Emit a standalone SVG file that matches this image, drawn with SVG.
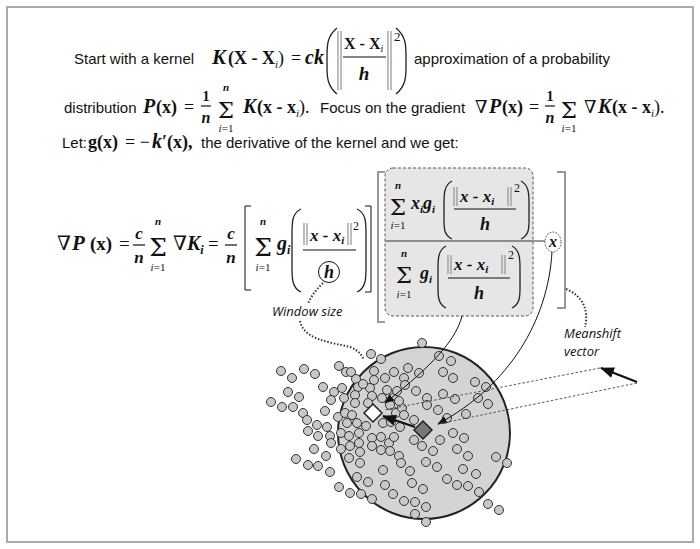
<svg xmlns="http://www.w3.org/2000/svg" width="700" height="549" viewBox="0 0 700 549">
<defs>
<style>
.t{font-family:"Liberation Sans",Arial,sans-serif;font-size:15px;fill:#111}
.lab{font-family:"Open Sans","Liberation Sans",sans-serif;font-size:13px;font-style:italic;fill:#111}
.m{font-family:"Liberation Serif","DejaVu Serif",serif;fill:#111}
.sg{font-family:"DejaVu Serif","Liberation Serif",serif;fill:#111;text-anchor:middle}
.b{font-weight:bold}
.bi{font-weight:bold;font-style:italic}
.it{font-style:italic}
.ln{stroke:#111;stroke-width:1;fill:none}
.bar{stroke:#111;stroke-width:1.2}
.nb{stroke:#999;stroke-width:1.3}
.par{stroke:#222;stroke-width:1.3;fill:none}
.brk{stroke:#999;stroke-width:2;fill:none}
.dot{fill:#c8c8c8;stroke:#333;stroke-width:1}
.dotted{stroke:#333;stroke-width:2;stroke-dasharray:1.5 1.8;fill:none}
.dash{stroke:#555;stroke-width:1;stroke-dasharray:2.5 2;fill:none}
</style>
<marker id="ah" markerUnits="userSpaceOnUse" markerWidth="10" markerHeight="8" refX="9" refY="4" orient="auto"><path d="M0,0 L10,4 L0,8 z" fill="#111"/></marker>
<marker id="ahL" markerUnits="userSpaceOnUse" markerWidth="14" markerHeight="11" refX="13" refY="5.5" orient="auto"><path d="M0,0 L14,5.5 L0,11 z" fill="#111"/></marker>
</defs>
<rect x="0" y="0" width="700" height="549" fill="#fff"/>
<rect x="7" y="7" width="686" height="535" fill="none" stroke="#aaa" stroke-width="2"/>

<g id="line1">
<text class="t" x="74" y="64">Start with a kernel</text>
<text class="m bi" x="212" y="64" font-size="21">K</text>
<text class="m b" x="228" y="64" font-size="18">(X - X<tspan class="it" font-weight="normal" font-size="11" dy="4">i</tspan><tspan dy="-4" font-weight="normal">)</tspan></text>
<text class="m" x="291" y="64" font-size="18">=</text>
<text class="m bi" x="305" y="64" font-size="20">ck</text>
<path class="par" d="M337,28 C327,36 327,46 327,56 L327,66 C327,76 327,86 337,94"/>
<line class="nb" x1="338" y1="31" x2="338" y2="90"/><line class="nb" x1="341" y1="31" x2="341" y2="90"/>
<text class="m b" x="344" y="49" font-size="16">X - X<tspan class="it" font-weight="normal" font-size="10" dy="3">i</tspan></text>
<line class="bar" x1="343" y1="57" x2="386" y2="57"/>
<text class="m bi" x="364" y="80" font-size="19" text-anchor="middle">h</text>
<line class="nb" x1="388" y1="31" x2="388" y2="90"/><line class="nb" x1="391" y1="31" x2="391" y2="90"/>
<text class="m" x="394" y="41" font-size="13">2</text>
<path class="par" d="M396,28 C406,36 406,46 406,56 L406,66 C406,76 406,86 396,94"/>
<text class="t" x="414" y="64">approximation of a probability</text>
</g>

<g id="line2">
<text class="t" x="64" y="113">distribution</text>
<text class="m bi" x="143" y="113" font-size="20">P</text>
<text class="m b" x="156" y="113" font-size="18">(x)</text>
<text class="m" x="184" y="113" font-size="18">=</text>
<text class="m b" x="206" y="101" font-size="14" text-anchor="middle">1</text>
<line class="bar" x1="201" y1="106" x2="211" y2="106"/>
<text class="m bi" x="206" y="123" font-size="16" text-anchor="middle">n</text>
<text class="sg" x="226" y="118" font-size="23">Σ</text>
<text class="m bi" x="226" y="91" font-size="11" text-anchor="middle">n</text>
<text class="m" x="226" y="132" font-size="11" text-anchor="middle"><tspan class="it">i</tspan>=1</text>
<text class="m bi" x="243" y="113" font-size="20">K</text>
<text class="m b" x="257" y="113" font-size="18">(x - x<tspan class="it" font-weight="normal" font-size="11" dy="4">i</tspan><tspan dy="-4" font-weight="normal">).</tspan></text>
<text class="t" x="320" y="113">Focus on the gradient</text>
<text class="m" x="475" y="113" font-size="18">∇</text>
<text class="m bi" x="489" y="113" font-size="20">P</text>
<text class="m b" x="502" y="113" font-size="18">(x)</text>
<text class="m" x="529" y="113" font-size="18">=</text>
<text class="m b" x="550" y="101" font-size="14" text-anchor="middle">1</text>
<line class="bar" x1="545" y1="106" x2="555" y2="106"/>
<text class="m bi" x="550" y="123" font-size="16" text-anchor="middle">n</text>
<text class="sg" x="569" y="118" font-size="23">Σ</text>
<text class="m" x="569" y="132" font-size="11" text-anchor="middle"><tspan class="it">i</tspan>=1</text>
<text class="m" x="584" y="113" font-size="18">∇</text>
<text class="m bi" x="598" y="113" font-size="20">K</text>
<text class="m b" x="612" y="113" font-size="18">(x - x<tspan class="it" font-weight="normal" font-size="11" dy="4">i</tspan><tspan dy="-4" font-weight="normal">).</tspan></text>
</g>

<g id="line3">
<text class="t" x="62" y="148">Let:</text>
<text class="m b" x="88" y="148" font-size="18">g(x)</text>
<text class="m" x="125" y="148" font-size="18">= −</text>
<text class="m bi" x="152" y="148" font-size="20">k</text>
<text class="m b" x="162" y="148" font-size="18">′(x),</text>
<text class="t" x="201" y="148">the derivative of the kernel and we get:</text>
</g>

<g id="gradient-formula">
<text class="m" x="57" y="250" font-size="20">∇</text>
<text class="m bi" x="72" y="250" font-size="21">P</text>
<text class="m b" x="90" y="250" font-size="19">(x)</text>
<text class="m" x="119" y="250" font-size="19">=</text>
<text class="m bi" x="139" y="239" font-size="17" text-anchor="middle">c</text>
<line class="bar" x1="133" y1="245" x2="145" y2="245"/>
<text class="m bi" x="139" y="263" font-size="17" text-anchor="middle">n</text>
<text class="sg" x="158" y="256" font-size="25">Σ</text>
<text class="m bi" x="158" y="225" font-size="11" text-anchor="middle">n</text>
<text class="m" x="158" y="271" font-size="11" text-anchor="middle"><tspan class="it">i</tspan>=1</text>
<text class="m" x="173" y="250" font-size="20">∇</text>
<text class="m bi" x="187" y="250" font-size="20">K<tspan font-size="12" dy="4">i</tspan></text>
<text class="m" x="208" y="250" font-size="19">=</text>
<text class="m bi" x="231" y="239" font-size="17" text-anchor="middle">c</text>
<line class="bar" x1="225" y1="245" x2="237" y2="245"/>
<text class="m bi" x="231" y="263" font-size="17" text-anchor="middle">n</text>
<path class="ln" stroke-width="1.3" d="M251,206 L245,206 L245,290 L251,290"/>
<text class="sg" x="263" y="256" font-size="25">Σ</text>
<text class="m bi" x="263" y="225" font-size="11" text-anchor="middle">n</text>
<text class="m" x="263" y="271" font-size="11" text-anchor="middle"><tspan class="it">i</tspan>=1</text>
<text class="m bi" x="277" y="250" font-size="20">g<tspan font-size="12" dy="4">i</tspan></text>
<path class="par" d="M301,209 C292,213 292,223 292,233 L292,268 C292,278 292,288 301,292"/>
<line class="nb" x1="304" y1="223" x2="304" y2="245"/><line class="nb" x1="307" y1="223" x2="307" y2="245"/>
<text class="m bi" x="310" y="241" font-size="17">x - x<tspan font-size="11" dy="3">i</tspan></text>
<line class="nb" x1="348" y1="223" x2="348" y2="245"/><line class="nb" x1="351" y1="223" x2="351" y2="245"/>
<text class="m" x="353" y="230" font-size="12">2</text>
<line class="bar" x1="303" y1="250" x2="356" y2="250"/>
<circle cx="329" cy="272" r="10.5" fill="none" stroke="#111" stroke-width="1"/>
<text class="m bi" x="329" y="278" font-size="18" text-anchor="middle">h</text>
<path class="par" d="M357,209 C366,213 366,223 366,233 L366,268 C366,278 366,288 357,292"/>
<path class="ln" stroke-width="1.3" d="M365,206 L371,206 L371,292 L365,292"/>
</g>

<g id="mean-box">
<path class="brk" d="M385,172 L378,172 L378,322 L385,322"/>
<rect x="385" y="168" width="148" height="148" rx="8" fill="#e6e6e6" stroke="#555" stroke-width="1" stroke-dasharray="3 2"/>
<line x1="385" y1="241" x2="533" y2="241" stroke="#8c8c8c" stroke-width="2"/>
<path class="brk" d="M557,172 L565,172 L565,308 L557,308"/>
<text class="sg" x="398" y="215" font-size="23">Σ</text>
<text class="m bi" x="398" y="189" font-size="11" text-anchor="middle">n</text>
<text class="m" x="398" y="229" font-size="11" text-anchor="middle"><tspan class="it">i</tspan>=1</text>
<text class="m bi" x="411" y="209" font-size="18">x<tspan font-size="11" dy="4">i</tspan><tspan dy="-4">g</tspan><tspan font-size="11" dy="4">i</tspan></text>
<path class="par" d="M452,181 C444,185 444,195 444,203 L444,219 C444,229 444,235 452,239"/>
<line class="nb" x1="454" y1="187" x2="454" y2="206"/><line class="nb" x1="457" y1="187" x2="457" y2="206"/>
<text class="m bi" x="460" y="202" font-size="17">x - x<tspan font-size="11" dy="3">i</tspan></text>
<line class="nb" x1="508" y1="187" x2="508" y2="206"/><line class="nb" x1="511" y1="187" x2="511" y2="206"/>
<text class="m" x="514" y="192" font-size="12">2</text>
<line class="bar" x1="454" y1="209" x2="516" y2="209"/>
<text class="m bi" x="485" y="230" font-size="18" text-anchor="middle">h</text>
<path class="par" d="M521,181 C529,185 529,195 529,203 L529,219 C529,229 529,235 521,239"/>
<text class="sg" x="404" y="283" font-size="23">Σ</text>
<text class="m bi" x="404" y="257" font-size="11" text-anchor="middle">n</text>
<text class="m" x="404" y="298" font-size="11" text-anchor="middle"><tspan class="it">i</tspan>=1</text>
<text class="m bi" x="420" y="279" font-size="18">g<tspan font-size="11" dy="4">i</tspan></text>
<path class="par" d="M446,246 C438,250 438,260 438,268 L438,288 C438,296 438,304 446,308"/>
<line class="nb" x1="448" y1="255" x2="448" y2="274"/><line class="nb" x1="451" y1="255" x2="451" y2="274"/>
<text class="m bi" x="454" y="270" font-size="17">x - x<tspan font-size="11" dy="3">i</tspan></text>
<line class="nb" x1="502" y1="255" x2="502" y2="274"/><line class="nb" x1="505" y1="255" x2="505" y2="274"/>
<text class="m" x="508" y="259" font-size="12">2</text>
<line class="bar" x1="448" y1="278" x2="510" y2="278"/>
<text class="m bi" x="479" y="299" font-size="18" text-anchor="middle">h</text>
<path class="par" d="M512,246 C520,250 520,260 520,268 L520,288 C520,296 520,304 512,308"/>
</g>

<g id="x-node">
<ellipse cx="553" cy="242" rx="8" ry="10" fill="#fff" stroke="#333" stroke-width="1" stroke-dasharray="1.5 1.5"/>
<text class="m bi" x="553" y="247" font-size="16" text-anchor="middle">x</text>
</g>

<g id="window-size-label"><text class="lab" x="272" y="316">Window size</text></g>
<g id="meanshift-label"><text class="lab" x="564" y="338">Meanshift</text><text class="lab" x="564" y="356">vector</text></g>

<g id="window">
<circle cx="424" cy="433" r="86" fill="#d4d4d4" stroke="#222" stroke-width="2"/>
</g>

<g id="points">
<circle class="dot" cx="281" cy="371" r="4.5"/><circle class="dot" cx="292" cy="378" r="4.5"/><circle class="dot" cx="304" cy="369" r="4.5"/><circle class="dot" cx="315" cy="374" r="4.5"/><circle class="dot" cx="339" cy="366" r="4.5"/><circle class="dot" cx="346" cy="372" r="4.5"/><circle class="dot" cx="351" cy="372" r="4.5"/><circle class="dot" cx="371" cy="354" r="4.5"/><circle class="dot" cx="381" cy="359" r="4.5"/><circle class="dot" cx="323" cy="387" r="4.5"/><circle class="dot" cx="334" cy="392" r="4.5"/><circle class="dot" cx="342" cy="388" r="4.5"/><circle class="dot" cx="288" cy="392" r="4.5"/><circle class="dot" cx="299" cy="397" r="4.5"/><circle class="dot" cx="271" cy="402" r="4.5"/><circle class="dot" cx="282" cy="407" r="4.5"/><circle class="dot" cx="293" cy="407" r="4.5"/><circle class="dot" cx="303" cy="413" r="4.5"/><circle class="dot" cx="307" cy="420" r="4.5"/><circle class="dot" cx="325" cy="411" r="4.5"/><circle class="dot" cx="338" cy="417" r="4.5"/><circle class="dot" cx="345" cy="413" r="4.5"/><circle class="dot" cx="317" cy="425" r="4.5"/><circle class="dot" cx="327" cy="427" r="4.5"/><circle class="dot" cx="308" cy="431" r="4.5"/><circle class="dot" cx="318" cy="436" r="4.5"/><circle class="dot" cx="330" cy="436" r="4.5"/><circle class="dot" cx="331" cy="443" r="4.5"/><circle class="dot" cx="314" cy="449" r="4.5"/><circle class="dot" cx="326" cy="456" r="4.5"/><circle class="dot" cx="296" cy="459" r="4.5"/><circle class="dot" cx="308" cy="465" r="4.5"/><circle class="dot" cx="318" cy="466" r="4.5"/><circle class="dot" cx="330" cy="472" r="4.5"/><circle class="dot" cx="339" cy="487" r="4.5"/><circle class="dot" cx="350" cy="493" r="4.5"/><circle class="dot" cx="361" cy="494" r="4.5"/><circle class="dot" cx="372" cy="499" r="4.5"/><circle class="dot" cx="357" cy="477" r="4.5"/><circle class="dot" cx="368" cy="482" r="4.5"/><circle class="dot" cx="360" cy="463" r="4.5"/>
<circle class="dot" cx="356" cy="379" r="4.5"/><circle class="dot" cx="374" cy="371" r="4.5"/><circle class="dot" cx="374" cy="380" r="4.5"/><circle class="dot" cx="385" cy="378" r="4.5"/><circle class="dot" cx="394" cy="372" r="4.5"/><circle class="dot" cx="358" cy="387" r="4.5"/><circle class="dot" cx="355" cy="395" r="4.5"/><circle class="dot" cx="355" cy="403" r="4.5"/><circle class="dot" cx="370" cy="388" r="4.5"/><circle class="dot" cx="372" cy="396" r="4.5"/><circle class="dot" cx="368" cy="403" r="4.5"/><circle class="dot" cx="387" cy="390" r="4.5"/><circle class="dot" cx="382" cy="398" r="4.5"/><circle class="dot" cx="393" cy="398" r="4.5"/><circle class="dot" cx="390" cy="405" r="4.5"/><circle class="dot" cx="347" cy="423" r="4.5"/><circle class="dot" cx="357" cy="423" r="4.5"/><circle class="dot" cx="366" cy="426" r="4.5"/><circle class="dot" cx="383" cy="423" r="4.5"/><circle class="dot" cx="396" cy="413" r="4.5"/><circle class="dot" cx="341" cy="433" r="4.5"/><circle class="dot" cx="349" cy="436" r="4.5"/><circle class="dot" cx="359" cy="433" r="4.5"/><circle class="dot" cx="359" cy="443" r="4.5"/><circle class="dot" cx="350" cy="446" r="4.5"/><circle class="dot" cx="341" cy="449" r="4.5"/><circle class="dot" cx="349" cy="458" r="4.5"/><circle class="dot" cx="360" cy="452" r="4.5"/><circle class="dot" cx="372" cy="438" r="4.5"/><circle class="dot" cx="372" cy="446" r="4.5"/><circle class="dot" cx="381" cy="437" r="4.5"/><circle class="dot" cx="389" cy="443" r="4.5"/><circle class="dot" cx="381" cy="450" r="4.5"/><circle class="dot" cx="390" cy="451" r="4.5"/><circle class="dot" cx="394" cy="437" r="4.5"/><circle class="dot" cx="399" cy="456" r="4.5"/><circle class="dot" cx="393" cy="494" r="4.5"/>
<circle class="dot" cx="404" cy="378" r="4.5"/><circle class="dot" cx="405" cy="385" r="4.5"/><circle class="dot" cx="408" cy="368" r="4.5"/><circle class="dot" cx="419" cy="373" r="4.5"/><circle class="dot" cx="422" cy="343" r="4.5"/><circle class="dot" cx="439" cy="356" r="4.5"/><circle class="dot" cx="451" cy="361" r="4.5"/><circle class="dot" cx="443" cy="372" r="4.5"/><circle class="dot" cx="453" cy="378" r="4.5"/><circle class="dot" cx="475" cy="382" r="4.5"/><circle class="dot" cx="486" cy="387" r="4.5"/><circle class="dot" cx="416" cy="391" r="4.5"/><circle class="dot" cx="443" cy="394" r="4.5"/><circle class="dot" cx="455" cy="399" r="4.5"/><circle class="dot" cx="427" cy="398" r="4.5"/><circle class="dot" cx="427" cy="405" r="4.5"/><circle class="dot" cx="478" cy="398" r="4.5"/><circle class="dot" cx="488" cy="404" r="4.5"/><circle class="dot" cx="438" cy="410" r="4.5"/><circle class="dot" cx="402" cy="408" r="4.5"/><circle class="dot" cx="404" cy="415" r="4.5"/><circle class="dot" cx="414" cy="420" r="4.5"/><circle class="dot" cx="414" cy="440" r="4.5"/><circle class="dot" cx="453" cy="433" r="4.5"/><circle class="dot" cx="464" cy="438" r="4.5"/><circle class="dot" cx="422" cy="446" r="4.5"/><circle class="dot" cx="433" cy="451" r="4.5"/><circle class="dot" cx="401" cy="463" r="4.5"/><circle class="dot" cx="457" cy="449" r="4.5"/><circle class="dot" cx="468" cy="456" r="4.5"/><circle class="dot" cx="496" cy="457" r="4.5"/><circle class="dot" cx="507" cy="463" r="4.5"/><circle class="dot" cx="410" cy="471" r="4.5"/><circle class="dot" cx="426" cy="462" r="4.5"/><circle class="dot" cx="437" cy="467" r="4.5"/><circle class="dot" cx="463" cy="469" r="4.5"/><circle class="dot" cx="476" cy="474" r="4.5"/><circle class="dot" cx="447" cy="479" r="4.5"/><circle class="dot" cx="457" cy="485" r="4.5"/><circle class="dot" cx="468" cy="486" r="4.5"/><circle class="dot" cx="412" cy="483" r="4.5"/><circle class="dot" cx="423" cy="489" r="4.5"/><circle class="dot" cx="479" cy="492" r="4.5"/><circle class="dot" cx="404" cy="501" r="4.5"/><circle class="dot" cx="415" cy="502" r="4.5"/><circle class="dot" cx="426" cy="507" r="4.5"/><circle class="dot" cx="488" cy="504" r="4.5"/><circle class="dot" cx="499" cy="510" r="4.5"/><circle class="dot" cx="415" cy="514" r="4.5"/><circle class="dot" cx="426" cy="522" r="4.5"/>
<circle class="dot" cx="344" cy="398" r="4.5"/><circle class="dot" cx="363" cy="384" r="4.5"/><circle class="dot" cx="397" cy="391" r="4.5"/><circle class="dot" cx="352" cy="415" r="4.5"/><circle class="dot" cx="391" cy="422" r="4.5"/><circle class="dot" cx="400" cy="427" r="4.5"/><circle class="dot" cx="399" cy="401" r="4.5"/><circle class="dot" cx="331" cy="400" r="4.5"/><circle class="dot" cx="447" cy="418" r="4.5"/><circle class="dot" cx="466" cy="414" r="4.5"/><circle class="dot" cx="440" cy="440" r="4.5"/><circle class="dot" cx="383" cy="470" r="4.5"/><circle class="dot" cx="385" cy="485" r="4.5"/>
</g>

<g id="white-diamond"><path d="M373,404 L382,413 L373,422 L364,413 Z" fill="#fff" stroke="#222" stroke-width="1.5"/></g>
<g id="gray-diamond"><path d="M423,421 L432,430 L423,439 L414,430 Z" fill="#777" stroke="#222" stroke-width="1.5"/></g>

<g id="connectors">
<path class="ln" d="M462,316 C455,345 420,375 385,403" marker-end="url(#ah)"/>
<path class="ln" d="M552,252 C548,320 510,385 438,424" marker-end="url(#ah)"/>
<line class="dash" x1="600" y1="368" x2="384" y2="410"/>
<line class="dash" x1="637" y1="383" x2="438" y2="424"/>
<line x1="415" y1="427" x2="383" y2="416" stroke="#111" stroke-width="2.2" marker-end="url(#ahL)"/>
<line x1="637" y1="382" x2="601" y2="368" stroke="#111" stroke-width="2.2" marker-end="url(#ahL)"/>
<line x1="533" y1="241" x2="545" y2="241" stroke="#333" stroke-width="1"/>
<path class="dotted" d="M323,283 C315,291 310,298 308,304"/>
<path class="dotted" d="M300,321 C304,340 330,342 350,347 C358,350 362,355 364,360"/>
<path class="dotted" d="M566,289 C583,296 589,310 585,327"/>
</g>
</svg>
